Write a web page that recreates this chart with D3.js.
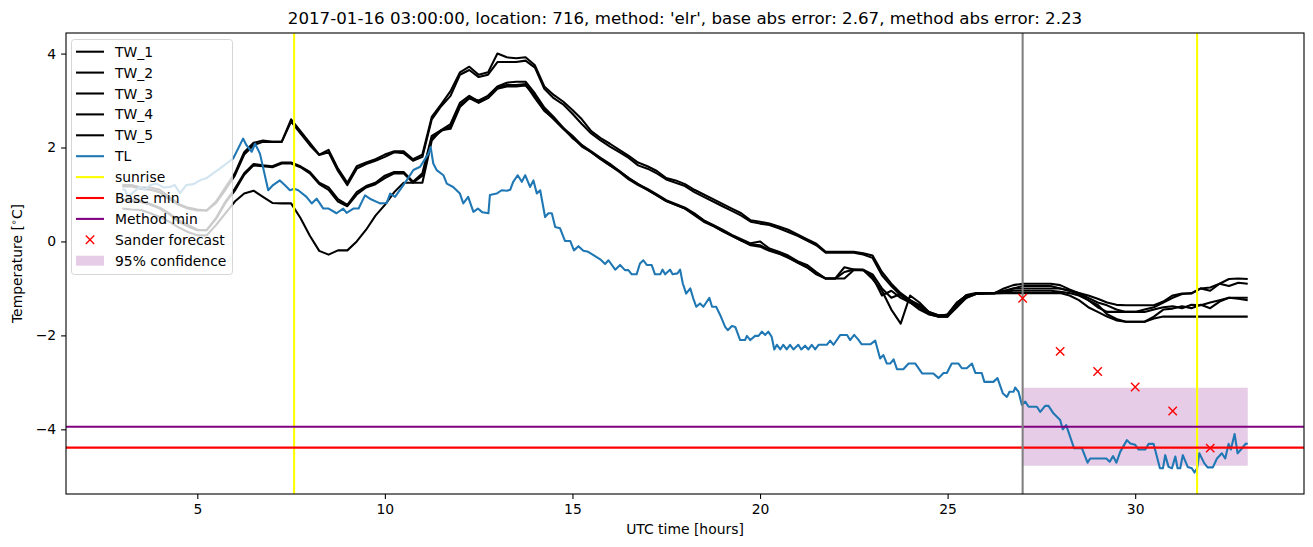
<!DOCTYPE html>
<html><head><meta charset="utf-8">
<script src="https://cdn.jsdelivr.net/npm/d3@7"></script>
<style>body{margin:0;background:#fff}svg{display:block;font-family:"DejaVu Sans",sans-serif}</style>
</head><body><svg id="c" width="1313" height="547"></svg>
<script>
const titleText = "2017-01-16 03:00:00, location: 716, method: 'elr', base abs error: 2.67, method abs error: 2.23";
const xTicks = [5,10,15,20,25,30];
const yTicks = [4,2,0,-2,-4];

// TW series sampled every 0.25 h from 3 to 33
const twStart = 3, twStep = 0.25;
const TW_1 = [1.2,1.2,1.15,1.15,1.1,0.95,0.8,0.72,0.68,0.66,0.85,1.15,1.45,1.9,2.1,2.15,2.12,2.12,2.6,2.35,2.1,1.85,1.95,1.55,1.25,1.6,1.68,1.75,1.85,1.92,1.92,1.75,1.85,2.65,2.92,3.2,3.6,3.72,3.55,3.6,4.0,3.92,3.9,3.92,3.75,3.3,3.12,2.98,2.8,2.6,2.35,2.2,2.08,1.95,1.82,1.68,1.6,1.5,1.35,1.3,1.22,1.1,1.0,0.9,0.8,0.7,0.6,0.45,0.42,0.38,0.32,0.25,0.15,0.05,-0.05,-0.22,-0.22,-0.22,-0.22,-0.25,-0.3,-0.65,-0.9,-1.1,-1.25,-1.35,-1.5,-1.57,-1.57,-1.32,-1.14,-1.1,-1.1,-1.1,-1.0,-0.93,-0.9,-0.9,-0.9,-0.9,-0.93,-1.02,-1.1,-1.15,-1.22,-1.3,-1.35,-1.36,-1.36,-1.36,-1.36,-1.28,-1.15,-1.11,-1.11,-1.0,-1.05,-0.9,-0.8,-0.79,-0.8];
const TW_2 = [1.17,1.17,1.12,1.1,1.05,0.9,0.78,0.7,0.66,0.66,0.82,1.1,1.4,1.85,2.05,2.12,2.12,2.12,2.55,2.3,2.05,1.84,1.9,1.5,1.2,1.55,1.65,1.72,1.8,1.9,1.88,1.72,1.8,2.6,2.88,3.1,3.55,3.65,3.5,3.55,3.82,3.82,3.82,3.85,3.7,3.25,3.05,2.92,2.72,2.5,2.3,2.15,2.02,1.9,1.78,1.62,1.55,1.45,1.32,1.25,1.18,1.05,0.95,0.85,0.75,0.65,0.55,0.42,0.38,0.35,0.28,0.2,0.12,0.02,-0.08,-0.24,-0.24,-0.24,-0.24,-0.28,-0.35,-0.72,-0.95,-1.15,-1.3,-1.4,-1.55,-1.6,-1.6,-1.4,-1.2,-1.12,-1.1,-1.1,-1.08,-1.05,-1.05,-1.05,-1.05,-1.05,-1.07,-1.1,-1.15,-1.25,-1.4,-1.5,-1.5,-1.5,-1.5,-1.45,-1.4,-1.3,-1.2,-1.12,-1.1,-1.0,-0.98,-0.9,-0.95,-0.88,-0.9];
const TW_3 = [0.9,0.88,0.86,0.8,0.72,0.6,0.45,0.35,0.25,0.24,0.5,0.85,1.12,1.45,1.65,1.62,1.6,1.68,1.68,1.6,1.48,1.25,1.15,0.9,0.78,1.05,1.18,1.25,1.4,1.48,1.48,1.27,1.45,2.25,2.37,2.5,2.95,3.1,2.98,3.1,3.3,3.38,3.4,3.4,3.15,2.85,2.65,2.42,2.25,2.05,1.92,1.78,1.65,1.5,1.35,1.22,1.12,1.0,0.88,0.8,0.72,0.6,0.45,0.35,0.25,0.14,0.05,-0.04,0.0,-0.15,-0.22,-0.3,-0.42,-0.5,-0.65,-0.79,-0.79,-0.65,-0.6,-0.61,-0.75,-1.15,-1.05,-1.2,-1.3,-1.45,-1.55,-1.6,-1.6,-1.35,-1.2,-1.12,-1.11,-1.11,-1.1,-1.1,-1.1,-1.1,-1.1,-1.1,-1.1,-1.15,-1.25,-1.4,-1.5,-1.6,-1.68,-1.71,-1.71,-1.71,-1.64,-1.6,-1.6,-1.6,-1.6,-1.6,-1.6,-1.6,-1.6,-1.6,-1.6];
const TW_4 = [0.88,0.86,0.84,0.78,0.7,0.58,0.42,0.32,0.24,0.24,0.48,0.82,1.08,1.42,1.62,1.6,1.58,1.66,1.66,1.58,1.45,1.22,1.1,0.85,0.75,1.0,1.15,1.22,1.35,1.45,1.45,1.25,1.4,2.2,2.35,2.45,2.9,3.05,2.95,3.05,3.25,3.3,3.3,3.32,3.1,2.8,2.6,2.4,2.22,2.02,1.9,1.75,1.62,1.48,1.32,1.2,1.1,0.98,0.86,0.78,0.7,0.56,0.42,0.33,0.22,0.12,0.02,-0.06,-0.08,-0.18,-0.25,-0.33,-0.45,-0.55,-0.7,-0.79,-0.79,-0.55,-0.6,-0.6,-0.7,-1.0,-1.2,-1.12,-1.25,-1.4,-1.52,-1.6,-1.55,-1.3,-1.15,-1.12,-1.1,-1.1,-1.07,-1.0,-0.95,-0.95,-0.95,-0.95,-1.0,-1.05,-1.12,-1.25,-1.35,-1.55,-1.65,-1.71,-1.71,-1.71,-1.6,-1.45,-1.43,-1.38,-1.42,-1.35,-1.42,-1.28,-1.2,-1.2,-1.2];
const TW_5 = [0.7,0.68,0.67,0.6,0.52,0.42,0.3,0.2,0.13,0.13,0.35,0.6,0.85,1.02,1.08,0.95,0.82,0.81,0.81,0.5,0.12,-0.2,-0.28,-0.19,-0.19,0.0,0.25,0.55,0.78,1.05,1.25,1.25,1.25,2.15,2.37,2.4,2.86,3.05,3.0,3.1,3.28,3.33,3.33,3.35,3.05,2.78,2.62,2.42,2.2,2.05,1.9,1.76,1.62,1.5,1.35,1.22,1.1,0.98,0.86,0.78,0.7,0.58,0.45,0.33,0.22,0.12,0.02,-0.08,-0.11,-0.2,-0.26,-0.35,-0.45,-0.55,-0.68,-0.79,-0.79,-0.79,-0.61,-0.61,-0.8,-1.05,-1.45,-1.75,-1.15,-1.3,-1.5,-1.57,-1.57,-1.3,-1.15,-1.12,-1.11,-1.1,-1.05,-1.0,-1.0,-1.0,-1.0,-1.0,-1.0,-1.05,-1.1,-1.2,-1.3,-1.36,-1.45,-1.5,-1.5,-1.5,-1.45,-1.4,-1.38,-1.42,-1.35,-1.36,-1.3,-1.25,-1.2,-1.22,-1.25];

const tlHours = [3.0,3.07,3.16,3.3,3.47,3.6,3.75,3.91,4.1,4.27,4.4,4.54,4.71,4.9,5.07,5.25,5.42,5.6,5.78,5.96,6.22,6.31,6.45,6.54,6.67,6.89,7.02,7.2,7.33,7.47,7.58,7.69,7.91,8.05,8.18,8.36,8.5,8.71,8.89,8.98,9.16,9.3,9.47,9.6,9.87,10.05,10.14,10.27,10.45,10.58,10.76,10.94,11.16,11.22,11.29,11.38,11.56,11.65,11.82,12.0,12.09,12.22,12.36,12.48,12.6,12.76,12.8,12.98,13.11,13.25,13.34,13.42,13.54,13.65,13.74,13.87,13.96,14.05,14.14,14.27,14.36,14.45,14.54,14.67,14.8,14.94,15.04,15.16,15.29,15.42,15.56,15.74,15.87,15.96,16.14,16.27,16.4,16.49,16.58,16.71,16.8,16.89,16.98,17.11,17.2,17.34,17.4,17.47,17.6,17.67,17.8,17.87,17.94,18.03,18.14,18.22,18.3,18.4,18.49,18.65,18.72,18.83,18.94,19.07,19.14,19.25,19.34,19.47,19.6,19.65,19.74,19.87,19.96,20.05,20.14,20.22,20.31,20.38,20.45,20.54,20.62,20.71,20.8,20.89,21.02,21.1,21.2,21.29,21.38,21.47,21.56,21.65,21.78,21.87,21.96,22.14,22.32,22.4,22.51,22.62,22.71,22.94,23.07,23.2,23.29,23.38,23.47,23.56,23.65,23.82,23.96,24.14,24.32,24.62,24.76,24.89,24.98,25.11,25.29,25.38,25.51,25.65,25.74,25.91,25.98,26.22,26.33,26.47,26.58,26.65,26.76,26.8,26.89,26.98,27.07,27.16,27.38,27.47,27.6,27.69,27.82,28.0,28.07,28.16,28.37,28.58,28.73,28.8,29.07,29.23,29.32,29.41,29.5,29.6,29.78,29.87,30.0,30.09,30.27,30.36,30.49,30.57,30.66,30.74,30.8,30.89,30.98,31.07,31.13,31.2,31.27,31.4,31.51,31.58,31.65,31.71,31.84,31.93,32.07,32.18,32.31,32.4,32.49,32.55,32.65,32.73,32.82,32.94,33.0];
const tlTemps = [1.11,1.1,0.95,1.05,1.16,1.1,1.2,1.23,1.15,1.16,1.2,1.03,1.2,1.22,1.3,1.35,1.45,1.55,1.66,1.77,2.19,2.05,1.91,2.08,1.87,1.09,1.2,1.3,1.2,1.09,1.12,1.09,0.95,0.81,0.91,0.7,0.7,0.6,0.7,0.61,0.7,0.7,0.98,0.91,0.81,0.82,1.02,0.95,1.15,1.3,1.52,1.59,1.87,2.01,1.66,1.52,1.41,1.23,1.16,1.02,0.81,0.95,0.63,0.7,0.62,0.6,0.99,1.02,1.09,1.08,1.1,1.27,1.41,1.27,1.41,1.16,1.3,1.02,1.09,0.52,0.6,0.6,0.31,0.28,0.01,0.01,-0.19,-0.1,-0.2,-0.22,-0.29,-0.38,-0.48,-0.4,-0.6,-0.5,-0.61,-0.61,-0.7,-0.7,-0.47,-0.4,-0.5,-0.5,-0.7,-0.7,-0.6,-0.7,-0.6,-0.7,-0.68,-0.6,-0.89,-1.11,-1.0,-1.21,-1.39,-1.32,-1.39,-1.2,-1.39,-1.39,-1.57,-1.82,-1.89,-1.8,-1.82,-2.1,-2.1,-2.01,-2.1,-2.01,-2.01,-1.92,-1.99,-1.92,-2.03,-2.3,-2.2,-2.3,-2.2,-2.3,-2.2,-2.3,-2.2,-2.3,-2.22,-2.3,-2.2,-2.3,-2.2,-2.2,-2.2,-2.11,-2.2,-1.99,-1.99,-2.1,-1.99,-2.09,-2.19,-2.19,-2.11,-2.49,-2.42,-2.6,-2.6,-2.51,-2.72,-2.72,-2.6,-2.6,-2.81,-2.81,-2.91,-2.8,-2.8,-2.6,-2.6,-2.7,-2.7,-2.6,-2.8,-2.8,-2.99,-2.99,-2.91,-3.23,-3.31,-3.2,-3.2,-3.11,-3.2,-3.48,-3.41,-3.52,-3.52,-3.63,-3.5,-3.5,-3.66,-3.8,-4.0,-3.91,-4.4,-4.4,-4.71,-4.62,-4.62,-4.62,-4.69,-4.57,-4.71,-4.48,-4.23,-4.3,-4.33,-4.43,-4.43,-4.31,-4.31,-4.55,-4.83,-4.83,-4.55,-4.8,-4.83,-4.58,-4.83,-4.83,-4.55,-4.8,-4.83,-4.92,-4.83,-4.51,-4.72,-4.81,-4.81,-4.62,-4.51,-4.62,-4.31,-4.43,-4.1,-4.51,-4.43,-4.31,-4.3];

const sunriseHours = [7.58, 31.65];
const forecastHour = 27;
const baseMin = -4.39;
const methodMin = -3.945;
const sanderHours = [27,28,29,30,31,32];
const sanderTemps = [-1.21,-2.34,-2.77,-3.10,-3.61,-4.40];
const confHours = [27,33];
const confRange = [-4.775,-3.115];

const svg = d3.select("#c");
const L = 66, R = 1304, T = 33, B = 494;
const x = d3.scaleLinear().domain([1.5,34.5]).range([L,R]);
const y = d3.scaleLinear().domain([-5.377,4.438]).range([B,T]);

svg.append("defs").append("clipPath").attr("id","clip").append("rect")
  .attr("x",L).attr("y",T).attr("width",R-L).attr("height",B-T);
const g = svg.append("g").attr("clip-path","url(#clip)");

// confidence band
g.append("rect").attr("x",x(confHours[0])).attr("width",x(confHours[1])-x(confHours[0]))
  .attr("y",y(confRange[1])).attr("height",y(confRange[0])-y(confRange[1]))
  .attr("fill","purple").attr("fill-opacity",0.2);

const line = d3.line().x(d=>x(d[0])).y(d=>y(d[1]));
[TW_1,TW_2,TW_3,TW_4,TW_5].forEach(s=>{
  g.append("path").datum(s.map((v,i)=>[twStart+i*twStep,v])).attr("d",line)
   .attr("fill","none").attr("stroke","black").attr("stroke-width",2.08).attr("stroke-linejoin","round");
});
g.append("path").datum(tlHours.map((h,i)=>[h,tlTemps[i]])).attr("d",line)
  .attr("fill","none").attr("stroke","#1f77b4").attr("stroke-width",2.08).attr("stroke-linejoin","round");

sunriseHours.forEach(h=>{
  g.append("line").attr("x1",x(h)).attr("x2",x(h)).attr("y1",T).attr("y2",B)
   .attr("stroke","yellow").attr("stroke-width",2.08);
});
g.append("line").attr("x1",L).attr("x2",R).attr("y1",y(baseMin)).attr("y2",y(baseMin))
  .attr("stroke","red").attr("stroke-width",2.08);
g.append("line").attr("x1",L).attr("x2",R).attr("y1",y(methodMin)).attr("y2",y(methodMin))
  .attr("stroke","purple").attr("stroke-width",2.08);
g.append("line").attr("x1",x(forecastHour)).attr("x2",x(forecastHour)).attr("y1",T).attr("y2",B)
  .attr("stroke","gray").attr("stroke-width",2.08);

const ms = 4.2;
sanderHours.forEach((h,i)=>{
  const cx=x(h), cy=y(sanderTemps[i]);
  g.append("path").attr("d",`M${cx-ms},${cy-ms}L${cx+ms},${cy+ms}M${cx-ms},${cy+ms}L${cx+ms},${cy-ms}`)
   .attr("stroke","red").attr("stroke-width",1.4);
});

// axes
const fs = "13.9px";
const xa = svg.append("g").attr("transform",`translate(0,${B})`)
  .call(d3.axisBottom(x).tickValues(xTicks).tickSize(4.9).tickPadding(4.9).tickFormat(d3.format("d")));
const ya = svg.append("g").attr("transform",`translate(${L},0)`)
  .call(d3.axisLeft(y).tickValues(yTicks).tickSize(4.9).tickPadding(4.9).tickFormat(d=>d<0?"\u2212"+Math.abs(d):String(d)));
[xa,ya].forEach(a=>{
  a.select(".domain").remove();
  a.selectAll("text").attr("font-size",fs).attr("font-family","DejaVu Sans").attr("fill","black");
  a.selectAll("line").attr("stroke","black").attr("stroke-width",1.1);
});
svg.append("rect").attr("x",L).attr("y",T).attr("width",R-L).attr("height",B-T)
  .attr("fill","none").attr("stroke","black").attr("stroke-width",1.1);

svg.append("text").attr("x",(L+R)/2).attr("y",24).attr("text-anchor","middle")
  .attr("font-size","16.67px").text(titleText);
svg.append("text").attr("x",(L+R)/2).attr("y",534).attr("text-anchor","middle")
  .attr("font-size",fs).text("UTC time [hours]");
const yl = svg.append("text").attr("transform",`translate(22,${(T+B)/2}) rotate(-90)`).attr("text-anchor","middle").attr("font-size",fs);
yl.append("tspan").text("Temperature [");
yl.append("tspan").attr("font-size","9.7px").attr("dy",-5).text("\u2218");
yl.append("tspan").attr("dy",5).text("C]");

// legend
const lg = svg.append("g");
lg.append("rect").attr("x",71.5).attr("y",39.5).attr("width",161).attr("height",235).attr("rx",3)
  .attr("fill","white").attr("fill-opacity",0.8).attr("stroke","#ccc").attr("stroke-opacity",0.8);
const items = [
  {t:"TW_1",k:"line",c:"black"},{t:"TW_2",k:"line",c:"black"},{t:"TW_3",k:"line",c:"black"},
  {t:"TW_4",k:"line",c:"black"},{t:"TW_5",k:"line",c:"black"},{t:"TL",k:"line",c:"#1f77b4"},
  {t:"sunrise",k:"line",c:"yellow"},{t:"Base min",k:"line",c:"red"},{t:"Method min",k:"line",c:"purple"},
  {t:"Sander forecast",k:"x",c:"red"},{t:"95% confidence",k:"patch",c:"purple"}];
items.forEach((it,i)=>{
  const cy = 51.7 + i*20.9;
  if(it.k==="line") lg.append("line").attr("x1",76).attr("x2",104).attr("y1",cy).attr("y2",cy).attr("stroke",it.c).attr("stroke-width",2.08);
  else if(it.k==="x") lg.append("path").attr("d",`M${90-ms},${cy-ms}L${90+ms},${cy+ms}M${90-ms},${cy+ms}L${90+ms},${cy-ms}`).attr("stroke","red").attr("stroke-width",1.4);
  else lg.append("rect").attr("x",76).attr("width",28).attr("y",cy-5).attr("height",10).attr("fill",it.c).attr("fill-opacity",0.2);
  lg.append("text").attr("x",115).attr("y",cy).attr("dy","0.36em").attr("font-size",fs).text(it.t);
});
</script></body></html>
